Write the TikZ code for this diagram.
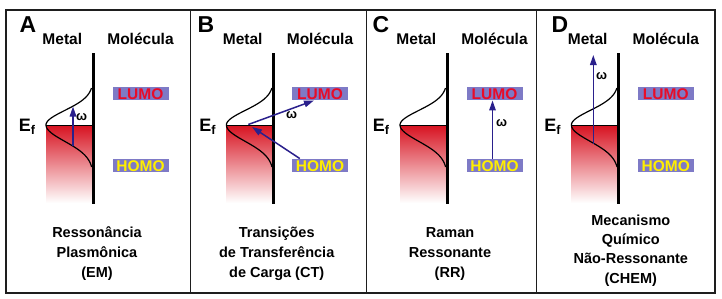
\documentclass[tikz,border=0pt]{standalone}
\usepackage{fontspec}
\setmainfont{Liberation Sans}
\usepackage{xcolor}
\definecolor{efred}{RGB}{215,18,32}
\definecolor{orbblue}{RGB}{126,122,198}
\definecolor{lumored}{RGB}{232,12,40}
\definecolor{homoyellow}{RGB}{255,238,0}
\definecolor{exblue}{RGB}{42,32,140}
\definecolor{framegray}{RGB}{30,30,30}
\usepackage{tikz}
\usetikzlibrary{arrows.meta, calc}

\begin{document}
\begin{tikzpicture}[x=1pt, y=-1pt,
  orbital/.style={fill=orbblue, inner sep=0pt, minimum width=56pt, minimum height=13.5pt,
    text height=11.2pt, text depth=0pt, font=\fontsize{15.5}{16}\selectfont\bfseries},
  head/.style={font=\fontsize{15.5}{18}\selectfont\bfseries},
  panelletter/.style={font=\fontsize{23}{26}\selectfont\bfseries},
  caption/.style={font=\fontsize{14.5}{20}\selectfont\bfseries, align=center},
  fermi/.style={font=\fontsize{18}{20}\selectfont\bfseries},
  omega/.style={font=\fontsize{13}{14}\selectfont\bfseries},
  excite/.style={exblue, line width=1.5pt, -{Triangle[length=10pt,width=6.5pt]}},
  wall/.style={line width=3pt},
  dos/.style={line width=1.2pt}]
  \useasboundingbox (0,0) rectangle (722,298);

  % Frame and panel separators
  \draw[line width=2pt, framegray] (6,9.5) rectangle (714.5,292.5);
  \foreach \sx in {190.5, 366.5, 536.5} {
    \draw[line width=1.3pt, framegray] (\sx,9.5) -- (\sx,292.5);
  }

  % Panels: filled states, density of states, metal wall, orbitals
  \foreach \p/\lx/\bx/\lt in {A/93.3/140.5/28, B/273.7/320/206, C/447.3/494.5/381, D/618.7/665.8/560} {
    \shade[top color=efred, middle color=efred!70!white, bottom color=white] (\lx-47.3,125) rectangle (\lx,203);
    \draw[line width=1pt] (\lx-47.3,125) coordinate (ef\p) -- (\lx,125);
    \draw[dos] plot[domain=-37:42, samples=60]
      ({\lx-47.3*exp(-(\x*\x)/(\x<0 ? 420.25 : 529))}, {125+\x});
    \draw[wall] (\lx,53) -- (\lx,204);
    \node[panelletter] (let\p) at (\lt,25) {\p};
    \node[head] (metal\p) at (\lx-31,39) {Metal};
    \node[head] (mol\p) at (\bx,39) {Molécula};
    \node[fermi] (fermi\p) at (\lx-66,127) {E\textsubscript{f}};
    \node[orbital, text=lumored] (lumo\p) at (\bx,93.5) {LUMO};
    \node[orbital, text=homoyellow] (homo\p) at (\bx,165.5) {HOMO};
  }

  % A: plasmon excitation in the metal
  \coordinate (lowA) at (73,146);
  \coordinate (upA) at (73,106.5);
  \draw[excite] (lowA) -- (upA);
  \node[omega] (omA) at (81.5,117) {ω};

  % B: charge transfer metal <-> molecule
  \coordinate (ctB) at (248.3,124.5);
  \coordinate (ctinB) at (252,127);
  \draw[excite] (ctB) -- ($(lumoB.south)+(-6,0)$);
  \draw[excite] ($(homoB.north west)+(8,0)$) -- (ctinB);
  \node[omega] (omB) at (291.7,115) {ω};

  % C: molecular resonance
  \draw[excite] ($(homoC.north)+(-2,0)$) -- ($(lumoC.south)+(-2,0)$);
  \node[omega] (omC) at (501.7,123) {ω};

  % D: non-resonant chemical
  \coordinate (lowD) at (593.3,144);
  \coordinate (topD) at (593.3,55);
  \draw[excite] (lowD) -- (topD);
  \node[omega] (omD) at (601.7,76) {ω};

  % Captions
  \node[caption] (capA) at (97,254) {Ressonância\\Plasmônica\\(EM)};
  \node[caption] (capB) at (276.7,254) {Transições\\de Transferência\\de Carga (CT)};
  \node[caption] (capC) at (450,254) {Raman\\Ressonante\\(RR)};
  \node[caption, font=\fontsize{14.5}{19.2}\selectfont\bfseries] (capD) at (630.8,250.5)
    {Mecanismo\\Químico\\Não-Ressonante\\(CHEM)};
\end{tikzpicture}
\end{document}
